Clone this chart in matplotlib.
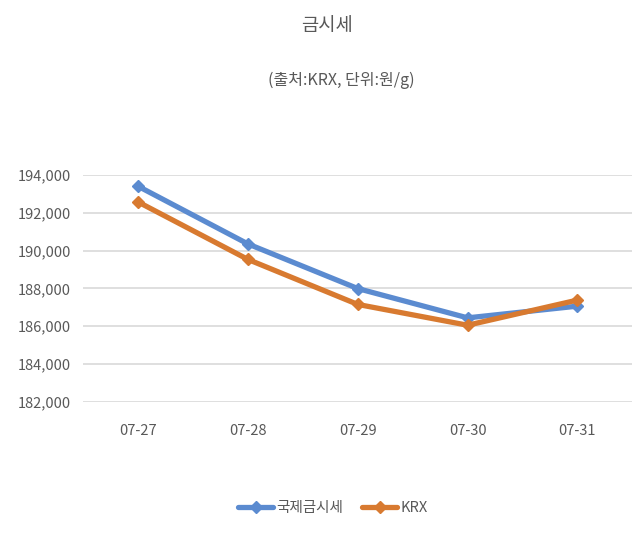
import matplotlib
matplotlib.use('Agg')
import matplotlib.pyplot as plt
import numpy as np

plt.rcParams['font.family'] = ['Noto Sans CJK KR', 'DejaVu Sans']

dates = ['07-27', '07-28', '07-29', '07-30', '07-31']
intl = [193400, 190350, 187990, 186440, 187060]
krx = [192570, 189530, 187150, 186050, 187380]

yticks = np.arange(182000, 194001, 2000)

blue = '#5B8BD0'
orange = '#D87A30'
txt = '#595959'

fig = plt.figure(figsize=(6.4, 5.35), dpi=100)
ax = fig.add_axes([0.130, 0.249, 0.858, 0.424])

x = np.arange(len(dates))
ax.plot(x, intl, color=blue, lw=3.8, marker='D', ms=6, label='국제금시세',
        solid_capstyle='round', solid_joinstyle='round')
ax.plot(x, krx, color=orange, lw=3.8, marker='D', ms=6, label='KRX',
        solid_capstyle='round', solid_joinstyle='round')

ax.set_xlim(-0.5, len(dates) - 0.5)
ax.set_ylim(182000, 194000)
ax.set_yticks(yticks)
ax.set_yticklabels([f'{v:,}' for v in yticks])
ax.set_xticks(x)
ax.set_xticklabels(dates)
ax.tick_params(length=0, labelsize=10.5, colors=txt)
ax.tick_params(axis='y', pad=9)
ax.tick_params(axis='x', pad=16)
ax.grid(axis='y', color='#d9d9d9', lw=1.2)
ax.set_axisbelow(True)
for s in ax.spines.values():
    s.set_visible(False)

fig.text(0.511, 0.952, '금시세', ha='center', va='center', fontsize=13.5, color=txt)
fig.text(0.534, 0.850, '(출처:KRX, 단위:원/g)', ha='center', va='center',
         fontsize=11.5, color=txt)

fig.legend(loc='center', bbox_to_anchor=(0.52, 0.05), ncol=2, frameon=False,
           fontsize=10.5, labelcolor=txt, handlelength=2.4, columnspacing=1.3,
           handletextpad=0.2)

fig.savefig('out.png', dpi=100)
